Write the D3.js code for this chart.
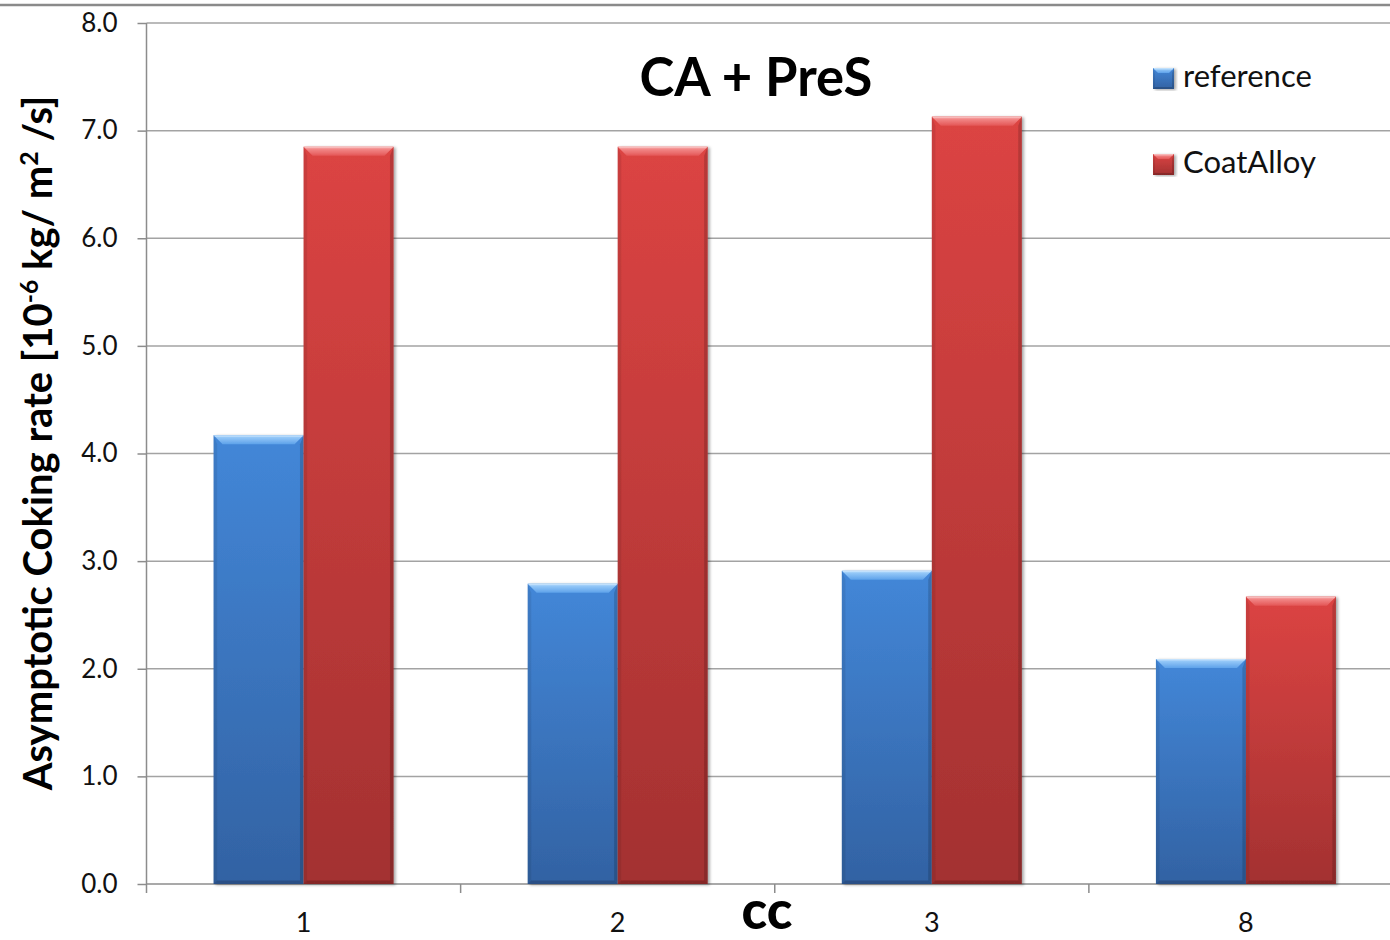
<!DOCTYPE html>
<html>
<head>
<meta charset="utf-8">
<script src="https://cdn.jsdelivr.net/npm/d3@7"></script>
<style>
  html, body { margin: 0; padding: 0; background: #fff; }
  svg { display: block; font-family: Lato, "Open Sans", sans-serif; }
</style>
</head>
<body>
<svg id="chart" width="1390" height="940"></svg>
<script>
// Coking-rate data per cc value
const categories = ["1", "2", "3", "8"];
const seriesNames = ["reference", "CoatAlloy"];
const referenceValues = [4.17, 2.79, 2.91, 2.09];
const coatAlloyValues = [6.85, 6.85, 7.13, 2.67];
const yTickValues = [0, 1, 2, 3, 4, 5, 6, 7, 8];

const W = 1390, H = 940;
const svg = d3.select("#chart");

// plot geometry
const plotLeft = 146.5, plotRight = 1403, plotTop = 23, plotBottom = 884;

const x0 = d3.scaleBand().domain(categories).range([plotLeft, plotRight]).paddingInner(0).paddingOuter(0);
const groupWidth = 180;
const x1 = d3.scaleBand().domain(seriesNames)
  .range([(x0.bandwidth() - groupWidth) / 2, (x0.bandwidth() + groupWidth) / 2]);
const y = d3.scaleLinear().domain([0, 8]).range([plotBottom, plotTop]);

const palette = {
  reference: { top: "#4387d8", bottom: "#3262a3", bevelTop: "#a6d4fc", bevelBot: "#5ea2ea" },
  CoatAlloy: { top: "#dc4443", bottom: "#a33131", bevelTop: "#f79a9a", bevelBot: "#e45656" }
};

// gradients and shadow
const defs = svg.append("defs");
seriesNames.forEach(s => {
  const c = palette[s];
  const g = defs.append("linearGradient").attr("id", "body-" + s)
    .attr("x1", 0).attr("y1", 0).attr("x2", 0).attr("y2", 1);
  g.append("stop").attr("offset", "0%").attr("stop-color", c.top);
  g.append("stop").attr("offset", "100%").attr("stop-color", c.bottom);
  const b = defs.append("linearGradient").attr("id", "bevel-" + s)
    .attr("x1", 0).attr("y1", 0).attr("x2", 0).attr("y2", 1);
  b.append("stop").attr("offset", "0%").attr("stop-color", c.bevelTop);
  b.append("stop").attr("offset", "100%").attr("stop-color", c.bevelBot);
});
const shadow = defs.append("filter").attr("id", "shadow")
  .attr("x", "-10%").attr("y", "-5%").attr("width", "125%").attr("height", "112%");
shadow.append("feDropShadow").attr("dx", 2).attr("dy", 1).attr("stdDeviation", 1.6)
  .attr("flood-color", "#000").attr("flood-opacity", 0.35);

// frame line across the top
svg.append("line").attr("x1", 0).attr("x2", W).attr("y1", 5).attr("y2", 5)
  .attr("stroke", "#8a8a8a").attr("stroke-width", 2.5);

// horizontal gridlines
svg.append("g").selectAll("line").data(yTickValues.filter(d => d > 0)).join("line")
  .attr("x1", plotLeft).attr("x2", W)
  .attr("y1", d => y(d)).attr("y2", d => y(d))
  .attr("stroke", "#a3a3a3").attr("stroke-width", 1.5);

// y axis
const yAxis = svg.append("g").attr("transform", `translate(${plotLeft},0)`)
  .call(d3.axisLeft(y).tickValues(yTickValues).tickFormat(d3.format(".1f")).tickSize(9).tickPadding(20));
yAxis.attr("font-size", null).attr("font-family", null);
yAxis.select(".domain").attr("d", `M0,${plotTop}V${plotBottom + 9}`).attr("stroke", "#8c8c8c").attr("stroke-width", 1.5);
yAxis.selectAll(".tick line").attr("stroke", "#8c8c8c").attr("stroke-width", 1.5);
yAxis.selectAll(".tick text").attr("font-size", 26).attr("fill", "#111");

// x axis: labels at category centres, ticks at category boundaries
const xAxis = svg.append("g").attr("transform", `translate(0,${plotBottom})`)
  .call(d3.axisBottom(x0).tickSize(0).tickPadding(29));
xAxis.attr("font-size", null).attr("font-family", null);
xAxis.select(".domain").attr("d", `M${plotLeft},0H${W}`).attr("stroke", "#8c8c8c").attr("stroke-width", 1.5);
xAxis.selectAll(".tick text").attr("font-size", 27).attr("fill", "#111");
xAxis.append("g").selectAll("line").data(categories.slice(1)).join("line")
  .attr("x1", d => x0(d)).attr("x2", d => x0(d)).attr("y1", 0).attr("y2", 9)
  .attr("stroke", "#8c8c8c").attr("stroke-width", 1.5);

// bevelled bar drawing
function drawBar(g, s, x, yTop, w, yBase, bevel) {
  const h = yBase - yTop;
  const b = Math.min(bevel, h / 2);
  const bar = g.append("g").attr("filter", "url(#shadow)");
  bar.append("rect").attr("x", x).attr("y", yTop).attr("width", w).attr("height", h)
    .attr("fill", `url(#body-${s})`);
  // top bevel
  bar.append("polygon")
    .attr("points", [[x, yTop], [x + w, yTop], [x + w - b, yTop + b], [x + b, yTop + b]].join(" "))
    .attr("fill", `url(#bevel-${s})`);
  // left side
  bar.append("polygon")
    .attr("points", [[x, yTop], [x + b * 0.4, yTop + b], [x + b * 0.4, yBase - b * 0.4], [x, yBase]].join(" "))
    .attr("fill", "#000").attr("fill-opacity", 0.08);
  // right side (darker)
  bar.append("polygon")
    .attr("points", [[x + w, yTop], [x + w - b * 0.4, yTop + b], [x + w - b * 0.4, yBase - b * 0.4], [x + w, yBase]].join(" "))
    .attr("fill", "#000").attr("fill-opacity", 0.16);
  // bottom edge
  bar.append("polygon")
    .attr("points", [[x, yBase], [x + b * 0.4, yBase - b * 0.4], [x + w - b * 0.4, yBase - b * 0.4], [x + w, yBase]].join(" "))
    .attr("fill", "#000").attr("fill-opacity", 0.18);
  // bright rim along the top
  bar.append("line").attr("x1", x + 1).attr("x2", x + w - 1).attr("y1", yTop + 0.75).attr("y2", yTop + 0.75)
    .attr("stroke", "#fff").attr("stroke-opacity", 0.35).attr("stroke-width", 1.5);
}

const rows = categories.map((c, i) => ({ cat: c, reference: referenceValues[i], CoatAlloy: coatAlloyValues[i] }));
const barsG = svg.append("g");
rows.forEach(r => {
  seriesNames.forEach(s => {
    drawBar(barsG, s, x0(r.cat) + x1(s), y(r[s]), x1.bandwidth(), y(0), 9);
  });
});

// legend
const legend = svg.append("g");
const legendY = [68, 154];
seriesNames.forEach((s, i) => {
  drawBar(legend, s, 1153, legendY[i], 21, legendY[i] + 21, 5);
  legend.append("text").attr("x", 1183).attr("y", legendY[i] + 19)
    .attr("font-size", 31).attr("fill", "#111").text(s);
});

// fit a text element's font size to a target length
function fitText(sel, target) {
  const len = sel.node().getComputedTextLength();
  const fs = parseFloat(sel.attr("font-size"));
  sel.attr("font-size", fs * target / len);
}

// chart title
const title = svg.append("text").attr("x", 756).attr("y", 96).attr("text-anchor", "middle")
  .attr("font-size", 44).attr("font-weight", 700).attr("fill", "#000").text("CA + PreS");
fitText(title, 233);

// x axis title
svg.append("text").attr("x", 767).attr("y", 929).attr("text-anchor", "middle")
  .attr("font-size", 53).attr("font-weight", 900).attr("fill", "#000").text("cc");

// y axis title with superscripts
const yTitle = svg.append("text").attr("transform", "translate(52,443) rotate(-90)")
  .attr("text-anchor", "middle").attr("font-size", 32).attr("font-weight", 700).attr("fill", "#000");
yTitle.append("tspan").text("Asymptotic Coking rate [10");
yTitle.append("tspan").attr("baseline-shift", "super").attr("font-size", "62%").text("-6");
yTitle.append("tspan").text(" kg/ m");
yTitle.append("tspan").attr("baseline-shift", "super").attr("font-size", "62%").text("2");
yTitle.append("tspan").text(" /s]");
fitText(yTitle, 695);
</script>
</body>
</html>
